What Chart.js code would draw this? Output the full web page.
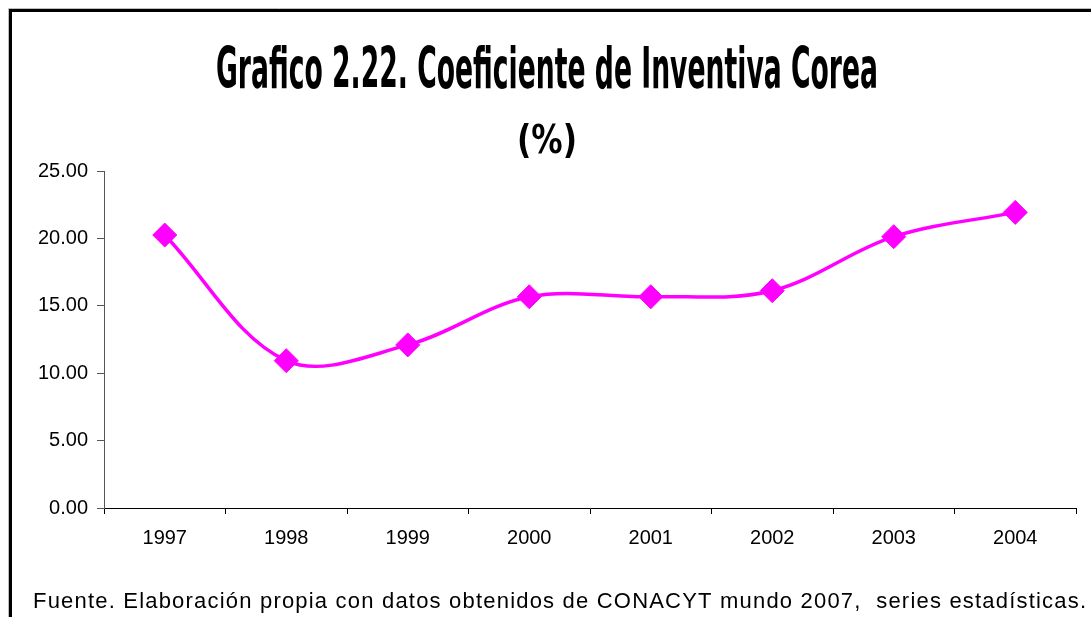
<!DOCTYPE html>
<html>
<head>
<meta charset="utf-8">
<script src="https://cdn.jsdelivr.net/npm/chart.js@4/dist/chart.umd.min.js"></script>
<style>
  html, body { margin: 0; padding: 0; background: #fff; }
  #wrap { width: 1091px; height: 617px; position: relative; }
</style>
</head>
<body>
<div id="wrap"><canvas id="c" width="1091" height="617"></canvas></div>
<script>
const categories = ['1997', '1998', '1999', '2000', '2001', '2002', '2003', '2004'];
const coeficiente = [20.25, 10.93, 12.1, 15.67, 15.67, 16.12, 20.13, 21.93];
const titleLine1 = 'Grafico 2.22. Coeficiente de Inventiva Corea';
const titleLine2 = '(%)';
const sourceNote = 'Fuente. Elaboración propia con datos obtenidos de CONACYT mundo 2007,  series estadísticas.';

function drawStretched(ctx, text, cx, capTop, baseline, targetWidth, fontPx, family) {
  ctx.save();
  ctx.font = 'bold ' + fontPx + 'px ' + family;
  const m = ctx.measureText(text);
  const capH = ctx.measureText('H').actualBoundingBoxAscent || fontPx * 0.73;
  const sy = (baseline - capTop) / capH;
  const sx = targetWidth / m.width;
  ctx.translate(cx, baseline);
  ctx.scale(sx, sy);
  ctx.textAlign = 'center';
  ctx.textBaseline = 'alphabetic';
  ctx.fillStyle = '#000';
  ctx.fillText(text, 0, 0);
  ctx.restore();
}

const decor = {
  id: 'decor',
  afterDraw(chart) {
    const ctx = chart.ctx;
    ctx.save();
    ctx.strokeStyle = '#bdbdbd';
    ctx.lineWidth = 1;
    ctx.beginPath();
    ctx.moveTo(8.5, 700); ctx.lineTo(8.5, 8.5); ctx.lineTo(1200, 8.5);
    ctx.stroke();
    ctx.strokeStyle = '#000';
    ctx.lineWidth = 3;
    ctx.beginPath();
    ctx.moveTo(10.5, 700); ctx.lineTo(10.5, 10.5); ctx.lineTo(1200, 10.5);
    ctx.stroke();
    ctx.restore();

    const fam = '"Liberation Sans Narrow", "DejaVu Sans Condensed", sans-serif';
    drawStretched(ctx, titleLine1, 547, 45, 88, 662, 40, fam);
    drawStretched(ctx, titleLine2, 547, 124, 153, 60, 30, fam);

    ctx.save();
    ctx.font = '22px "Liberation Sans", Arial, sans-serif';
    ctx.fillStyle = '#000';
    ctx.textAlign = 'left';
    ctx.textBaseline = 'alphabetic';
    const natural = ctx.measureText(sourceNote).width;
    const target = 1053;
    const chars = [...sourceNote].length;
    if ('letterSpacing' in ctx && natural < target) {
      ctx.letterSpacing = ((target - natural) / (chars - 1)).toFixed(3) + 'px';
    }
    ctx.fillText(sourceNote, 33, 608);
    ctx.restore();
  }
};

new Chart(document.getElementById('c'), {
  type: 'line',
  data: {
    labels: categories,
    datasets: [{
      data: coeficiente,
      borderColor: '#FF00FF',
      backgroundColor: '#FF00FF',
      borderWidth: 3.5,
      tension: 0.35,
      pointStyle: 'rectRot',
      pointRadius: 12,
      pointHoverRadius: 12,
      pointBorderWidth: 1,
      pointBackgroundColor: '#FF00FF',
      pointBorderColor: '#FF00FF',
      fill: false
    }]
  },
  options: {
    responsive: false,
    animation: false,
    devicePixelRatio: 1,
    layout: { padding: { top: 171, right: 15, left: 0, bottom: 0 } },
    plugins: {
      legend: { display: false },
      title: { display: false },
      tooltip: { enabled: false }
    },
    scales: {
      x: {
        type: 'category',
        offset: true,
        grid: { offset: true, drawOnChartArea: false, drawTicks: true, tickLength: 6, color: '#000', lineWidth: 1 },
        border: { color: '#000', width: 1 },
        ticks: { color: '#000', font: { family: '"Liberation Sans", Arial, sans-serif', size: 20 }, padding: 12, maxRotation: 0 },
        afterFit: (s) => { s.height = 109; }
      },
      y: {
        min: 0,
        max: 25,
        grid: { drawOnChartArea: false, drawTicks: true, tickLength: 7, color: '#555', lineWidth: 1 },
        border: { color: '#555', width: 1 },
        ticks: {
          stepSize: 5,
          color: '#000',
          font: { family: '"Liberation Sans", Arial, sans-serif', size: 20 },
          padding: 9,
          callback: (v) => Number(v).toFixed(2)
        },
        afterFit: (s) => { s.width = 104; }
      }
    }
  },
  plugins: [decor]
});
</script>
</body>
</html>
